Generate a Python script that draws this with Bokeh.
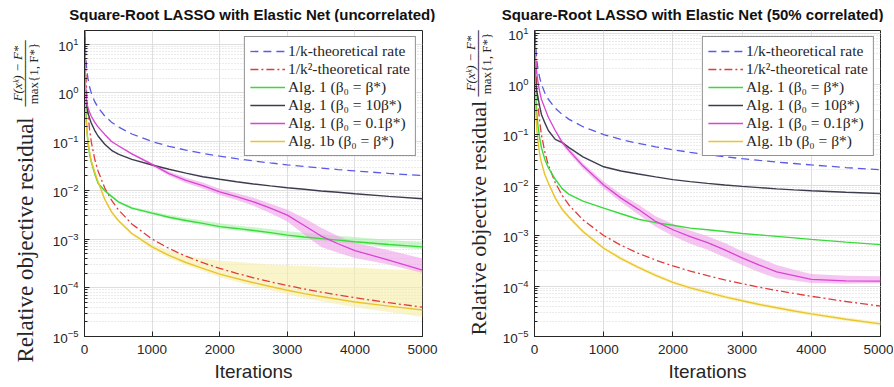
from bokeh.plotting import figure
from bokeh.layouts import row, column
from bokeh.models import Label, FixedTicker, Range1d, Legend, LegendItem
from bokeh.embed import file_html
from bokeh.resources import INLINE

# ---------------- data ----------------
iters = [1, 5, 10, 20, 35, 50, 75, 100, 150, 200, 300, 400, 500, 700, 1000, 1250, 1500,
         1750, 2000, 2250, 2500, 2750, 3000, 3250, 3500, 3750, 4000, 4500, 5000]

rate_k = [100, 20, 10, 5, 2.857, 2, 1.333, 1, 0.6667, 0.5, 0.3333, 0.25, 0.2, 0.1429, 0.1,
          0.08, 0.06667, 0.05714, 0.05, 0.04444, 0.04, 0.03636, 0.03333, 0.03077, 0.02857,
          0.02667, 0.025, 0.02222, 0.02]
rate_k2 = [1000, 40, 10, 2.5, 0.8163, 0.4, 0.1778, 0.1, 0.04444, 0.025, 0.01111, 0.00625,
           0.004, 0.002041, 0.001, 0.00064, 0.0004444, 0.0003265, 0.00025, 0.0001975, 0.00016,
           0.0001322, 0.0001111, 9.467e-5, 8.163e-5, 7.111e-5, 6.25e-5, 4.938e-5, 4e-5]

# left panel (uncorrelated)
L_green = [12, 3, 1.2, 0.5, 0.18, 0.1, 0.055, 0.038, 0.022, 0.014, 0.0098, 0.0075, 0.0058,
           0.0043, 0.0034, 0.0028, 0.0024, 0.0021, 0.0018, 0.00165, 0.0015, 0.00135, 0.0012,
           0.0011, 0.00102, 0.00095, 0.00088, 0.00077, 0.00069]
L_green_lo = [11.4, 2.85, 1.14, 0.475, 0.171, 0.095, 0.052, 0.036, 0.021, 0.0133, 0.0093,
              0.0071, 0.0055, 0.0041, 0.0032, 0.0026, 0.0022, 0.0019, 0.00165, 0.0015, 0.00136,
              0.00122, 0.00108, 0.00099, 0.00092, 0.00085, 0.00079, 0.00069, 0.00062]
L_green_hi = [12.6, 3.15, 1.26, 0.525, 0.189, 0.105, 0.058, 0.04, 0.023, 0.0147, 0.0103,
              0.0079, 0.0061, 0.0046, 0.0037, 0.0031, 0.0027, 0.0024, 0.0021, 0.0019, 0.00175,
              0.0016, 0.00145, 0.00135, 0.00125, 0.00117, 0.0011, 0.00096, 0.00086]
L_black = [18, 3.5, 1.8, 0.9, 0.52, 0.4, 0.3, 0.24, 0.17, 0.13, 0.088, 0.066, 0.055, 0.043,
           0.033, 0.027, 0.0225, 0.019, 0.0168, 0.015, 0.0135, 0.0123, 0.0113, 0.0105, 0.0097,
           0.0091, 0.0085, 0.0075, 0.0067]
L_mag = [15, 4, 2.0, 1.0, 0.6, 0.5, 0.4, 0.33, 0.25, 0.2, 0.14, 0.1, 0.082, 0.056, 0.034,
         0.022, 0.016, 0.0125, 0.0093, 0.0074, 0.0058, 0.0043, 0.0031, 0.0019, 0.00115, 0.0008,
         0.00058, 0.00037, 0.00023]
L_mag_lo = [14.5, 3.9, 1.94, 0.97, 0.58, 0.485, 0.39, 0.32, 0.243, 0.194, 0.136, 0.097, 0.08,
            0.054, 0.0316, 0.0198, 0.0141, 0.0109, 0.008, 0.0063, 0.0048, 0.0034, 0.0023,
            0.00124, 0.00069, 0.00052, 0.00041, 0.0003, 0.0002]
L_mag_hi = [15.5, 4.1, 2.06, 1.03, 0.62, 0.515, 0.41, 0.34, 0.258, 0.206, 0.144, 0.103, 0.084,
            0.058, 0.0364, 0.0242, 0.0181, 0.0144, 0.0108, 0.0087, 0.007, 0.0053, 0.004,
            0.0027, 0.0017, 0.00116, 0.00084, 0.00059, 0.0004]
L_yel = [10, 1.5, 0.7, 0.3, 0.16, 0.1, 0.06, 0.04, 0.024, 0.015, 0.0065, 0.0036, 0.0024,
         0.0013, 0.00069, 0.00046, 0.00033, 0.00025, 0.00019, 0.000155, 0.000127, 0.000106,
         8.9e-5, 7.6e-5, 6.6e-5, 5.8e-5, 5.1e-5, 4.2e-5, 3.5e-5]
L_yel_lo = [9.2, 1.38, 0.644, 0.276, 0.147, 0.092, 0.055, 0.037, 0.022, 0.0138, 0.006, 0.0033,
            0.0022, 0.0012, 0.00062, 0.00041, 0.00029, 0.00022, 0.000165, 0.000133, 0.000108,
            8.9e-5, 7.4e-5, 6.2e-5, 5.3e-5, 4.6e-5, 4.0e-5, 3.2e-5, 2.5e-5]
L_yel_hi = [10.8, 1.62, 0.756, 0.324, 0.173, 0.108, 0.065, 0.043, 0.026, 0.0162, 0.007, 0.0039,
            0.0026, 0.0014, 0.00078, 0.00058, 0.00046, 0.0004, 0.00036, 0.00034, 0.00032,
            0.0003, 0.00029, 0.00028, 0.00027, 0.00026, 0.00026, 0.00024, 0.00023]

# right panel (50% correlated)
R_green = [10, 2, 1.0, 0.5, 0.25, 0.15, 0.085, 0.055, 0.032, 0.022, 0.013, 0.0085, 0.0065,
           0.0048, 0.0035, 0.0027, 0.0021, 0.0018, 0.0016, 0.0014, 0.0013, 0.0012, 0.0011,
           0.00103, 0.00096, 0.0009, 0.00084, 0.00074, 0.00066]
R_black = [15, 3.5, 1.8, 1.0, 0.7, 0.55, 0.36, 0.25, 0.17, 0.12, 0.08, 0.069, 0.055, 0.036,
           0.023, 0.019, 0.0165, 0.0145, 0.0128, 0.0117, 0.0108, 0.01, 0.0094, 0.0089, 0.0084,
           0.008, 0.0077, 0.0072, 0.0068]
R_mag = [12, 6, 4, 2.5, 1.6, 1.1, 0.7, 0.5, 0.33, 0.22, 0.12, 0.07, 0.048, 0.024, 0.01, 0.0055,
         0.0033, 0.0019, 0.0013, 0.00095, 0.00072, 0.00052, 0.00036, 0.00026, 0.00019, 0.00016,
         0.000135, 0.000126, 0.000125]
R_mag_lo = [11.6, 5.8, 3.9, 2.43, 1.55, 1.07, 0.68, 0.485, 0.32, 0.213, 0.116, 0.063, 0.042,
            0.0209, 0.0085, 0.0046, 0.0026, 0.0015, 0.00098, 0.00069, 0.00052, 0.00037, 0.00026,
            0.000187, 0.000143, 0.000128, 0.000115, 0.000111, 0.000113]
R_mag_hi = [12.4, 6.2, 4.1, 2.58, 1.65, 1.13, 0.72, 0.515, 0.34, 0.227, 0.124, 0.077, 0.054,
            0.0274, 0.0117, 0.0066, 0.0041, 0.0024, 0.0017, 0.00126, 0.00097, 0.00071, 0.00049,
            0.00036, 0.00026, 0.00021, 0.000173, 0.00016, 0.000156]
R_yel = [6, 1.5, 0.6, 0.25, 0.12, 0.075, 0.04, 0.028, 0.016, 0.011, 0.0055, 0.0033, 0.0023,
         0.0012, 0.00056, 0.00035, 0.000235, 0.000163, 0.000118, 9.2e-5, 7.5e-5, 6.1e-5, 5.1e-5,
         4.3e-5, 3.7e-5, 3.2e-5, 2.8e-5, 2.2e-5, 1.78e-5]
R_yel_lo = [5.5, 1.38, 0.55, 0.23, 0.11, 0.069, 0.037, 0.026, 0.0147, 0.0101, 0.0051, 0.003,
            0.0021, 0.0011, 0.00052, 0.00032, 0.000216, 0.00015, 0.000108, 8.5e-5, 6.9e-5,
            5.6e-5, 4.7e-5, 3.95e-5, 3.4e-5, 2.95e-5, 2.58e-5, 2.02e-5, 1.64e-5]
R_yel_hi = [6.5, 1.64, 0.65, 0.27, 0.13, 0.082, 0.044, 0.031, 0.0175, 0.012, 0.006, 0.0036,
            0.0025, 0.0013, 0.00061, 0.00038, 0.000256, 0.000178, 0.000129, 0.0001, 8.2e-5,
            6.6e-5, 5.6e-5, 4.7e-5, 4.0e-5, 3.5e-5, 3.05e-5, 2.4e-5, 1.94e-5]

x_ticks = [0, 1000, 2000, 3000, 4000, 5000]
legend_labels = ["1/k-theoretical rate", "1/k\u00b2-theoretical rate",
                 "Alg. 1 (\u03b2\u2080 = \u03b2*)", "Alg. 1 (\u03b2\u2080 = 10\u03b2*)",
                 "Alg. 1 (\u03b2\u2080 = 0.1\u03b2*)", "Alg. 1b (\u03b2\u2080 = \u03b2*)"]
titles = ["Square-Root LASSO with Elastic Net (uncorrelated)",
          "Square-Root LASSO with Elastic Net (50% correlated)"]
ylabel_text = "Relative objective residual"
frac_num, frac_den = "F(x\u1d4f) \u2212 F*", "max{1, F*}"

INK = "#262626"
C_BLUE, C_RED, C_GREEN = "#5a5ae6", "#e03c3c", "#3ada3a"
C_BLACK, C_MAG, C_YEL = "#3c3c50", "#d944d2", "#eac42c"

TH = 22          # title strip height
H2 = 364         # plot row height


def no_align(f):
    try:
        f.frame_align = False
    except Exception:
        pass
    return f


def blank_fig(width, height):
    f = figure(width=width, height=height, x_range=Range1d(0, width),
               y_range=Range1d(0, height), output_backend="svg", toolbar_location=None,
               min_border=0, x_axis_location=None, y_axis_location=None)
    f.grid.visible = False
    f.outline_line_color = None
    return no_align(f)


def title_fig(width, text, cx):
    f = blank_fig(width, TH)
    f.add_layout(Label(x=cx, y=TH - 14, text=text, text_font="Liberation Sans",
                       text_font_style="bold", text_font_size="15px", text_align="center",
                       text_baseline="middle", text_color="#111111"))
    return f


def label_fig(width, main_x, main_top_page, main_size, frac_x, frac_page):
    f = blank_fig(width, H2)
    top = TH + H2  # page y of this figure's bottom edge
    f.add_layout(Label(x=main_x, y=top - main_top_page, text=ylabel_text, angle=90,
                       angle_units="deg", text_font="Liberation Serif",
                       text_font_size=main_size, text_align="left", text_baseline="middle",
                       text_color=INK))
    fy = top - frac_page
    f.add_layout(Label(x=frac_x - 8, y=fy, text=frac_num, angle=90, angle_units="deg",
                       text_font="Liberation Serif", text_font_style="italic",
                       text_font_size="13px", text_align="center", text_baseline="middle",
                       text_color=INK))
    f.add_layout(Label(x=frac_x, y=fy, text="\u2500" * 10, angle=90, angle_units="deg",
                       text_font="DejaVu Sans", text_font_size="11px", text_align="center",
                       text_baseline="middle", text_color=INK))
    f.add_layout(Label(x=frac_x + 8, y=fy, text=frac_den, angle=90, angle_units="deg",
                       text_font="Liberation Serif", text_font_size="13px",
                       text_align="center", text_baseline="middle", text_color=INK))
    return f


def make_panel(ymax, min_left, min_right, width, green, black, mag, yel, bands):
    p = figure(width=width, height=H2, x_range=Range1d(0, 5000), y_range=Range1d(1e-5, ymax),
               y_axis_type="log", output_backend="svg", toolbar_location=None,
               min_border_left=min_left, min_border_right=min_right, min_border_top=8,
               min_border_bottom=H2 - 8 - 306)
    no_align(p)
    p.background_fill_color = "white"
    p.outline_line_color = INK
    p.outline_line_width = 1

    # grids
    p.xgrid.grid_line_color = "#dedede"
    p.ygrid.grid_line_color = "#dedede"
    p.ygrid.minor_grid_line_color = "#d6d6d6"
    p.ygrid.minor_grid_line_dash = "1 2"

    # confidence bands
    for lo, hi, col, al in bands:
        p.varea(x=iters, y1=lo, y2=hi, fill_color=col, fill_alpha=al)

    r1 = p.line(iters, rate_k, line_color=C_BLUE, line_width=1.3, line_dash="8 5")
    r2 = p.line(iters, rate_k2, line_color=C_RED, line_width=1.3, line_dash="8 3 2 3")
    r3 = p.line(iters, green, line_color=C_GREEN, line_width=1.4)
    r4 = p.line(iters, black, line_color=C_BLACK, line_width=1.4)
    r5 = p.line(iters, mag, line_color=C_MAG, line_width=1.3)
    r6 = p.line(iters, yel, line_color=C_YEL, line_width=1.4)

    leg = Legend(items=[LegendItem(label=l, renderers=[r]) for l, r in
                        zip(legend_labels, [r1, r2, r3, r4, r5, r6])],
                 location="top_right")
    leg.margin = 6
    leg.padding = 5
    leg.spacing = 0
    leg.glyph_width = 35
    leg.glyph_height = 16
    leg.label_height = 16
    leg.label_standoff = 3
    leg.label_text_font = "Liberation Serif"
    leg.label_text_font_size = "15.5px"
    leg.label_text_color = INK
    leg.border_line_color = INK
    leg.border_line_width = 1
    leg.background_fill_alpha = 1
    p.add_layout(leg, "center")

    # axes
    xa = p.xaxis[0]
    xa.ticker = FixedTicker(ticks=x_ticks)
    ya = p.yaxis[0]
    for ax in (xa, ya):
        ax.major_label_text_font = "Liberation Sans"
        ax.major_label_text_font_size = "13.5px"
        ax.major_label_text_color = INK
        ax.axis_line_color = INK
        ax.major_tick_line_color = INK
        ax.minor_tick_line_color = INK
        ax.major_tick_in = 5
        ax.major_tick_out = 0
        ax.minor_tick_in = 3
        ax.minor_tick_out = 0
    xa.minor_tick_line_color = None
    xa.major_label_standoff = 8
    ya.major_label_standoff = 6
    xa.axis_label = "Iterations"
    xa.axis_label_text_font = "Liberation Sans"
    xa.axis_label_text_font_style = "normal"
    xa.axis_label_text_font_size = "19px"
    xa.axis_label_text_color = INK
    xa.axis_label_standoff = 4
    return p


t1 = title_fig(447, titles[0], 251.7)
t2 = title_fig(446, titles[1], 692 - 447)
lf1 = label_fig(40, 25, 362, "23px", 25, 73)
p1 = make_panel(19, 44, 25, 407, L_green, L_black, L_mag, L_yel,
                [(L_yel_lo, L_yel_hi, "#f7eca8", 0.6), (L_green_lo, L_green_hi, "#a8f0a8", 0.6),
                 (L_mag_lo, L_mag_hi, "#f0a0ea", 0.6)])
lf2 = label_fig(52, 31, 335, "22px", 31, 63)
p2 = make_panel(11.5, 33, 13, 394, R_green, R_black, R_mag, R_yel,
                [(R_yel_lo, R_yel_hi, "#f7eca8", 0.6), (R_mag_lo, R_mag_hi, "#f0a0ea", 0.6)])

layout = column(row(t1, t2), row(lf1, p1, lf2, p2))
open("out.html", "w").write(file_html(layout, INLINE))
